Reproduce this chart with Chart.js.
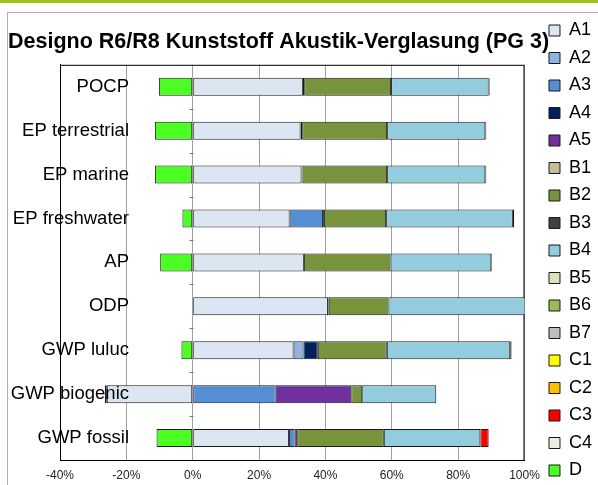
<!DOCTYPE html>
<html>
<head>
<meta charset="utf-8">
<script src="https://cdn.jsdelivr.net/npm/chart.js@4.4.1/dist/chart.umd.min.js"></script>
<style>
  body { margin: 0; background: #fff; }
  #wrap { position: relative; width: 598px; height: 485px; overflow: hidden; }
  #topbar { position: absolute; left: 0; top: 0; width: 598px; height: 3px; background: #9bc31c; }
  #frame { position: absolute; left: 7px; top: 12px; width: 620px; height: 500px; border: 1px solid #b0b0b0; }
  #myChart { position: absolute; left: 0; top: 0; }
</style>
</head>
<body>
<div id="wrap">
  <div id="topbar"></div>
  <div id="frame"></div>
  <canvas id="myChart" width="598" height="485"></canvas>
</div>
<script>
const categories = ['POCP', 'EP terrestrial', 'EP marine', 'EP freshwater', 'AP', 'ODP', 'GWP luluc', 'GWP biogenic', 'GWP fossil'];

// share of each module in %, one value per category (null = not present)
const A1 = [33.2, 32.5, 32.8, 29.2, 33.5, 40.8, 30.4, -25.9, 29.0];
const A2 = [null, null, null, null, null, null, 3.0, null, null];
const A3 = [null, null, null, 10.1, null, null, null, 25.0, 1.7];
const A4 = [0.4, 0.5, 0.3, 0.3, null, 0.2, 4.3, null, null];
const A5 = [null, null, null, null, null, null, null, 22.8, 0.8];
const B1 = [null, null, null, null, null, null, null, null, null];
const B2 = [26.2, 25.6, 25.5, 18.7, 26.1, 18.0, 20.8, 3.3, 26.1];
const B3 = [null, null, null, null, null, null, null, null, null];
const B4 = [29.4, 29.6, 29.6, 38.2, 30.4, 42.0, 37.2, 22.3, 29.1];
const B5 = [null, null, null, null, null, null, null, null, null];
const B6 = [null, null, null, null, null, null, null, null, null];
const B7 = [null, null, null, null, null, null, null, null, null];
const C1 = [null, null, null, null, null, null, null, null, null];
const C2 = [null, null, null, null, null, null, null, null, null];
const C3 = [null, null, null, null, null, null, null, null, 2.5];
const C4 = [0.3, 0.3, 0.3, 0.4, 0.2, null, 0.4, null, null];
const D = [-10.2, -11.4, -11.4, -3.1, -9.8, null, -3.4, -0.6, -10.9];

const xTicks = [-40, -20, 0, 20, 40, 60, 80, 100];

const modules = [
  ['A1', A1, '#dce6f2'], ['A2', A2, '#8db4e2'], ['A3', A3, '#558ed5'], ['A4', A4, '#002060'],
  ['A5', A5, '#7030a0'], ['B1', B1, '#c4bd97'], ['B2', B2, '#77933c'], ['B3', B3, '#404040'],
  ['B4', B4, '#93cddd'], ['B5', B5, '#d7e4bd'], ['B6', B6, '#9bbb59'], ['B7', B7, '#bfbfbf'],
  ['C1', C1, '#ffff00'], ['C2', C2, '#ffc000'], ['C3', C3, '#ff0000'], ['C4', C4, '#eeece1'],
  ['D', D, '#4cff22']
];

const font = "'Liberation Sans', Arial, sans-serif";

const data = {
  labels: categories,
  datasets: modules.map(m => ({
    label: m[0],
    data: m[1],
    backgroundColor: m[2],
    borderColor: '#1a1a1a',
    borderWidth: 1,
    borderSkipped: false,
    categoryPercentage: 1,
    barPercentage: 0.41
  }))
};

// black frame round the plot + small category ticks on the 0 line
const plotFrame = {
  id: 'plotFrame',
  beforeDatasetsDraw(chart) {
    const {ctx, chartArea: a, scales: {x, y}} = chart;
    ctx.save();
    ctx.strokeStyle = '#000';
    ctx.lineWidth = 1;
    ctx.strokeRect(a.left + 0.5, a.top + 0.5, a.right - a.left - 1, a.bottom - a.top);
    const x0 = Math.round(x.getPixelForValue(0)) + 0.5;
    const step = y.getPixelForValue(1) - y.getPixelForValue(0);
    ctx.strokeStyle = '#777';
    ctx.beginPath();
    for (let i = 1; i < categories.length; i++) {
      const yy = Math.round(y.getPixelForValue(i) - step / 2) + 0.5;
      ctx.moveTo(x0 - 4, yy);
      ctx.lineTo(x0, yy);
    }
    ctx.stroke();
    ctx.restore();
  },
  // category names sit inside the plot, right-aligned
  afterDatasetsDraw(chart) {
    const {ctx, chartArea: a, scales: {y}} = chart;
    ctx.save();
    ctx.font = '18.5px ' + font;
    ctx.fillStyle = '#000';
    ctx.textAlign = 'right';
    ctx.textBaseline = 'middle';
    categories.forEach((c, i) => ctx.fillText(c, a.left + 69, y.getPixelForValue(i)));
    ctx.restore();
  }
};

const config = {
  type: 'bar',
  data: data,
  options: {
    indexAxis: 'y',
    responsive: false,
    animation: false,
    layout: { padding: { left: 8, top: 0, right: -4, bottom: -4 } },
    scales: {
      x: {
        stacked: true,
        min: -40,
        max: 100,
        afterBuildTicks: s => { s.ticks = xTicks.map(v => ({ value: v })); },
        afterFit: s => { s.height = 29; },
        grid: { color: '#a0a0a0', drawTicks: false },
        border: { color: '#000', width: 1 },
        ticks: {
          padding: 8,
          color: '#222',
          font: { family: font, size: 12 },
          callback: v => v + '%'
        }
      },
      y: {
        stacked: true,
        afterFit: s => { s.width = 52; },
        grid: { display: false },
        border: { color: '#000', width: 1 },
        ticks: { display: false }
      },
      gap: {
        type: 'linear',
        position: 'right',
        grid: { display: false },
        border: { display: false },
        ticks: { display: false },
        afterFit: s => { s.width = 15; }
      }
    },
    plugins: {
      title: {
        display: true,
        text: 'Designo R6/R8 Kunststoff Akustik-Verglasung (PG 3)',
        align: 'start',
        color: '#000',
        font: { family: font, size: 21.5, weight: 'bold' },
        padding: { top: 29, bottom: 10 }
      },
      legend: {
        position: 'right',
        align: 'end',
        labels: {
          color: '#000',
          boxWidth: 11,
          boxHeight: 11,
          padding: 9.5,
          font: { family: font, size: 18 }
        }
      },
      tooltip: { enabled: false }
    }
  },
  plugins: [plotFrame]
};

document.addEventListener('DOMContentLoaded', (event) => {
  const myChart = new Chart(document.getElementById('myChart'), config);
});
</script>
</body>
</html>
